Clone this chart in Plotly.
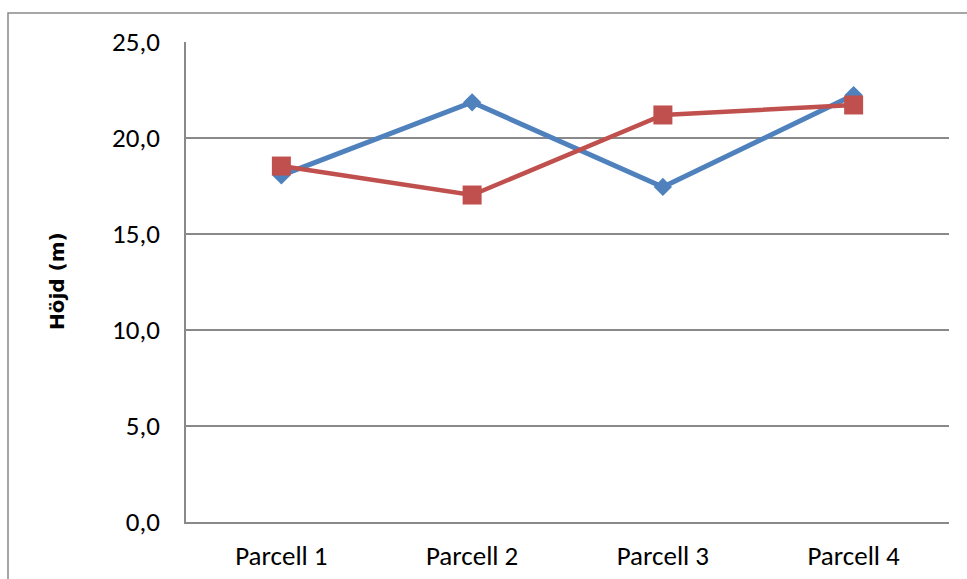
import plotly.graph_objects as go

# Tree height per plot (m), two series
parcels = ["Parcell 1", "Parcell 2", "Parcell 3", "Parcell 4"]
series_a = [18.05, 21.86, 17.45, 22.24]
series_b = [18.54, 17.03, 21.20, 21.72]
y_ticks = [0, 5, 10, 15, 20, 25]
y_tick_text = ["0,0", "5,0", "10,0", "15,0", "20,0", "25,0"]

BLUE = "#4F81BD"
RED = "#C0504D"
GRID = "#898989"
FONT = "Carlito, Liberation Sans, Arial, sans-serif"
TITLE_FONT = "DejaVu Sans, Liberation Sans, sans-serif"

W, H = 967, 579
L, R, T, B = 186, 18, 42, 57
pw, ph = W - L - R, H - T - B

fig = go.Figure()
fig.add_trace(go.Scatter(
    x=parcels, y=series_a, mode="lines+markers",
    line=dict(color=BLUE, width=5),
    marker=dict(symbol="diamond", size=14, color=BLUE),
    showlegend=False,
))
fig.add_trace(go.Scatter(
    x=parcels, y=series_b, mode="lines+markers",
    line=dict(color=RED, width=4.5),
    marker=dict(symbol="square", size=19, color=RED),
    showlegend=False,
))

# outer chart border (runs off the right and bottom edges)
fig.add_shape(
    type="rect", xref="paper", yref="paper", layer="below",
    x0=(8 - L) / pw, x1=(W + 10 - L) / pw,
    y0=-(B + 10) / ph, y1=(H - B - 13) / ph,
    line=dict(color=GRID, width=1.5), fillcolor="rgba(0,0,0,0)",
)

fig.add_annotation(
    text="<b>Höjd (m)</b>", textangle=-90, showarrow=False,
    xref="paper", yref="paper", x=(57 - L) / pw, y=(H - B - 281) / ph,
    xanchor="center", yanchor="middle",
    font=dict(family=TITLE_FONT, size=20, color="#000000"),
)

fig.update_layout(
    width=W, height=H,
    margin=dict(l=L, r=R, t=T, b=B, autoexpand=False),
    paper_bgcolor="white", plot_bgcolor="white",
    font=dict(family=FONT, size=27, color="#000000"),
    xaxis=dict(
        type="category", range=[-0.5, 3.5], automargin=False,
        showline=True, linecolor=GRID, linewidth=1.5,
        showgrid=False, ticks="", ticklabelstandoff=9,
        tickfont=dict(size=27),
    ),
    yaxis=dict(
        range=[0, 25], tickvals=y_ticks, ticktext=y_tick_text,
        automargin=False,
        showline=True, linecolor=GRID, linewidth=1.5,
        showgrid=True, gridcolor=GRID, gridwidth=1.5,
        zeroline=False, ticks="", ticklabelstandoff=19,
        tickfont=dict(size=27),
    ),
)

fig.write_html("out.html")
